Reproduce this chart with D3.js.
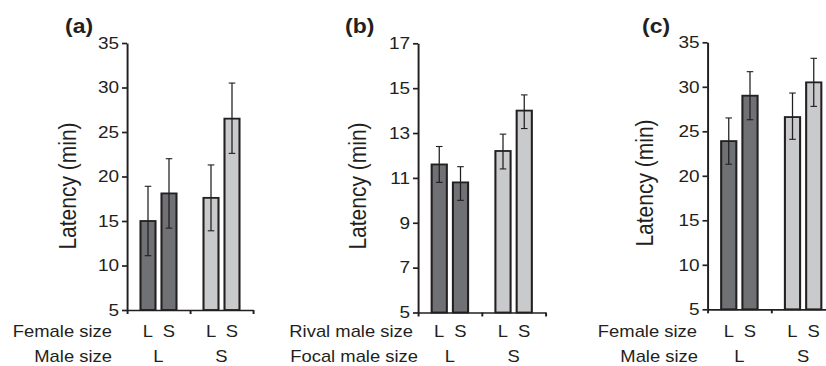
<!DOCTYPE html>
<html>
<head>
<meta charset="utf-8">
<script src="https://cdn.jsdelivr.net/npm/d3@7"></script>
<style>
    body { margin: 0; background: #fff; }
    svg { display: block; font-family: "Liberation Sans", Arial, sans-serif; }
</style>
</head>
<body>
<div id="chart"></div>
<script>
// outer grouping (male size) and inner grouping (female / rival size)
const groups = ['L', 'S'];
const subgroups = ['L', 'S'];

// panel (a)
const valuesA = [15.0, 18.1, 17.6, 26.5];
const lowA = [11.1, 14.2, 13.9, 22.6];
const highA = [18.9, 22.0, 21.3, 30.5];
const ticksA = [5, 10, 15, 20, 25, 30, 35];
const rowsA = ['Female size', 'Male size'];

// panel (b)
const valuesB = [11.6, 10.8, 12.2, 14.0];
const lowB = [10.8, 10.0, 11.4, 13.2];
const highB = [12.4, 11.5, 12.95, 14.7];
const ticksB = [5, 7, 9, 11, 13, 15, 17];
const rowsB = ['Rival male size', 'Focal male size'];

// panel (c)
const valuesC = [23.9, 29.0, 26.6, 30.5];
const lowC = [21.3, 26.3, 24.1, 27.8];
const highC = [26.5, 31.7, 29.3, 33.2];
const ticksC = [5, 10, 15, 20, 25, 30, 35];
const rowsC = ['Female size', 'Male size'];

const panelLabels = ['(a)', '(b)', '(c)'];
const yTitle = 'Latency (min)';

const fills = ['#707174', '#707174', '#c9cacc', '#c9cacc'];
const ink = '#231f20';

let width = 826;
let height = 366;
const SX = 1.15; // source picture is stretched horizontally

// layout in screen pixels
const layouts = [
    { axisX: 127, top: 43, bottom: 310, len: 126, rowRight: [112, 112], titleX: 69, titleY: 186, labelX: 65 },
    { axisX: 418, top: 43.3, bottom: 312.5, len: 127.5, rowRight: [413, 418], titleX: 359, titleY: 186, labelX: 345 },
    { axisX: 707.5, top: 42.3, bottom: 309.3, len: 127.5, rowRight: [697, 698], titleX: 646, titleY: 183, labelX: 642 },
];

const panels = [
    { values: valuesA, low: lowA, high: highA, ticks: ticksA, rows: rowsA },
    { values: valuesB, low: lowB, high: highB, ticks: ticksB, rows: rowsB },
    { values: valuesC, low: lowC, high: highC, ticks: ticksC, rows: rowsC },
];

const svg = d3.select('#chart')
    .append('svg')
    .attr('width', width)
    .attr('height', height);

const root = svg.append('g')
    .attr('transform', `scale(${SX},1)`);

panels.forEach((p, i) => {
    const L = layouts[i];
    const x0 = L.axisX / SX;
    const len = L.len / SX;

    const g = root.append('g');

    const y = d3.scaleLinear()
        .domain(d3.extent(p.ticks))
        .range([L.bottom, L.top]);

    const xOuter = d3.scaleBand()
        .domain(groups)
        .range([x0, x0 + len]);

    const xInner = d3.scaleBand()
        .domain(subgroups)
        .range([0, xOuter.bandwidth()])
        .paddingInner(0.2857)
        .paddingOuter(0.643);

    const xBound = d3.scaleLinear()
        .domain([0, groups.length])
        .range([x0, x0 + len]);

    const bars = [];
    groups.forEach((gr, gi) => {
        subgroups.forEach((sg, si) => {
            const k = gi * subgroups.length + si;
            bars.push({
                gr, sg, k,
                value: p.values[k],
                low: p.low[k],
                high: p.high[k],
                x: xOuter(gr) + xInner(sg),
            });
        });
    });

    // bars
    g.selectAll('rect.bar')
        .data(bars)
        .join('rect')
        .attr('class', 'bar')
        .attr('x', d => d.x)
        .attr('width', xInner.bandwidth())
        .attr('y', d => y(d.value))
        .attr('height', d => y(y.domain()[0]) - y(d.value))
        .attr('fill', d => fills[d.k])
        .attr('stroke', ink)
        .attr('stroke-width', 1.8);

    // error bars
    const cap = 3.3 / SX;
    const eb = g.selectAll('g.err')
        .data(bars)
        .join('g')
        .attr('class', 'err')
        .attr('stroke', ink)
        .attr('stroke-width', 1.1);
    eb.append('line')
        .attr('x1', d => d.x + xInner.bandwidth() / 2)
        .attr('x2', d => d.x + xInner.bandwidth() / 2)
        .attr('y1', d => y(d.low))
        .attr('y2', d => y(d.high));
    eb.selectAll('line.cap')
        .data(d => [d.low, d.high].map(v => ({ v, cx: d.x + xInner.bandwidth() / 2 })))
        .join('line')
        .attr('class', 'cap')
        .attr('x1', d => d.cx - cap)
        .attr('x2', d => d.cx + cap)
        .attr('y1', d => y(d.v))
        .attr('y2', d => y(d.v));

    // y axis
    const yAxis = g.append('g')
        .attr('transform', `translate(${x0},0)`)
        .call(d3.axisLeft(y)
            .tickValues(p.ticks)
            .tickSize(5 / SX)
            .tickSizeOuter(0)
            .tickPadding(3 / SX));
    yAxis.selectAll('path, line').attr('stroke', ink).attr('stroke-width', 1.7);
    yAxis.selectAll('text')
        .attr('fill', ink)
        .style('font-size', '16.5px');

    // x axis
    const xAxis = g.append('g')
        .attr('transform', `translate(0,${L.bottom})`)
        .call(d3.axisBottom(xBound)
            .tickValues(d3.range(groups.length + 1))
            .tickFormat('')
            .tickSize(4)
            .tickSizeOuter(0));
    xAxis.selectAll('path, line').attr('stroke', ink).attr('stroke-width', 1.7);

    // category rows
    const rowY = [337, 362];
    g.selectAll('text.sub')
        .data(bars)
        .join('text')
        .attr('class', 'sub')
        .attr('x', d => d.x + xInner.bandwidth() / 2)
        .attr('y', rowY[0])
        .attr('text-anchor', 'middle')
        .style('font-size', '16px')
        .attr('fill', ink)
        .text(d => d.sg);

    g.selectAll('text.grp')
        .data(groups)
        .join('text')
        .attr('class', 'grp')
        .attr('x', d => xOuter(d) + xOuter.bandwidth() / 2)
        .attr('y', rowY[1])
        .attr('text-anchor', 'middle')
        .style('font-size', '16px')
        .attr('fill', ink)
        .text(d => d);

    g.selectAll('text.row')
        .data(p.rows)
        .join('text')
        .attr('class', 'row')
        .attr('x', (d, j) => L.rowRight[j] / SX)
        .attr('y', (d, j) => rowY[j])
        .attr('text-anchor', 'end')
        .style('font-size', '16px')
        .attr('fill', ink)
        .text(d => d);

    // y title
    g.append('text')
        .attr('transform', `translate(${L.titleX / SX},${L.titleY}) rotate(-90)`)
        .attr('text-anchor', 'middle')
        .attr('dy', '0.3em')
        .style('font-size', '21px')
        .attr('fill', ink)
        .text(yTitle);

    // panel label
    g.append('text')
        .attr('x', L.labelX / SX)
        .attr('y', 33)
        .style('font-size', '20px')
        .style('font-weight', 'bold')
        .attr('fill', ink)
        .text(panelLabels[i]);
});
</script>
</body>
</html>
